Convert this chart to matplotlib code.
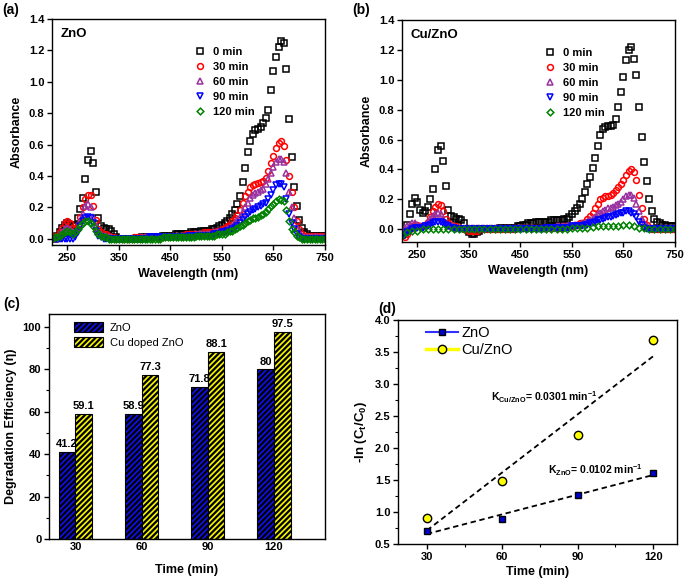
import numpy as np
import matplotlib
matplotlib.use('Agg')
import matplotlib.pyplot as plt
from matplotlib.lines import Line2D

plt.rcParams['font.family'] = ['Liberation Sans', 'DejaVu Sans']
plt.rcParams['font.weight'] = 'bold'
plt.rcParams['axes.labelweight'] = 'bold'
plt.rcParams['mathtext.fontset'] = 'custom'
plt.rcParams['mathtext.rm'] = 'Liberation Sans:bold'
plt.rcParams['mathtext.it'] = 'Liberation Sans:bold'
plt.rcParams['mathtext.bf'] = 'Liberation Sans:bold'
plt.rcParams['hatch.linewidth'] = 1.6
plt.rcParams['axes.linewidth'] = 1.0

# wavelength grid (nm) for the UV-vis spectra
wavelength = np.arange(220, 751, 5)

# (a) ZnO spectra
zno_0 = [0.00, 0.00, 0.02, 0.04, 0.07, 0.09, 0.10, 0.09, 0.08, 0.09,
         0.13, 0.19, 0.26, 0.38, 0.50, 0.56, 0.48, 0.30, 0.13, 0.08,
         0.07, 0.06, 0.06, 0.05, 0.03, 0.01, 0.00, 0.00, 0.00, 0.00,
         0.00, 0.00, 0.00, 0.00, 0.00, 0.01, 0.01, 0.01, 0.01, 0.01,
         0.01, 0.01, 0.01, 0.02, 0.02, 0.02, 0.02, 0.02, 0.03, 0.03,
         0.03, 0.03, 0.03, 0.03, 0.04, 0.04, 0.04, 0.04, 0.05, 0.05,
         0.05, 0.05, 0.06, 0.06, 0.07, 0.08, 0.09, 0.10, 0.11, 0.13,
         0.155, 0.185, 0.22, 0.27, 0.36, 0.45, 0.55, 0.62, 0.665, 0.69,
         0.70, 0.715, 0.74, 0.77, 0.82, 0.95, 1.07, 1.16, 1.22, 1.26,
         1.25, 1.08, 0.76, 0.52, 0.33, 0.21, 0.12, 0.07, 0.04, 0.03,
         0.02, 0.02, 0.02, 0.02, 0.02, 0.02, 0.02]
zno_30 = [0.02, 0.01, 0.02, 0.04, 0.07, 0.10, 0.11, 0.10, 0.07, 0.06,
          0.09, 0.14, 0.20, 0.25, 0.28, 0.28, 0.21, 0.12, 0.06, 0.04,
          0.03, 0.03, 0.02, 0.01, 0.01, 0.00, 0.00, 0.00, 0.00, 0.00,
          0.00, 0.00, 0.01, 0.01, 0.01, 0.01, 0.01, 0.01, 0.01, 0.01,
          0.01, 0.01, 0.01, 0.01, 0.02, 0.02, 0.02, 0.02, 0.02, 0.02,
          0.02, 0.02, 0.03, 0.03, 0.03, 0.03, 0.03, 0.03, 0.03, 0.04,
          0.04, 0.04, 0.04, 0.04, 0.05, 0.05, 0.06, 0.07, 0.08, 0.09,
          0.11, 0.13, 0.15, 0.18, 0.23, 0.27, 0.30, 0.33, 0.345, 0.35,
          0.355, 0.36, 0.37, 0.39, 0.43, 0.48, 0.53, 0.58, 0.61, 0.62,
          0.59, 0.50, 0.40, 0.30, 0.20, 0.11, 0.06, 0.03, 0.02, 0.02,
          0.02, 0.02, 0.02, 0.02, 0.02, 0.02, 0.02]
zno_60 = [0.00, 0.00, 0.01, 0.02, 0.04, 0.06, 0.07, 0.06, 0.04, 0.04,
          0.07, 0.11, 0.16, 0.21, 0.22, 0.20, 0.14, 0.08, 0.04, 0.03,
          0.02, 0.02, 0.01, 0.01, 0.00, 0.00, 0.00, 0.00, 0.00, 0.00,
          0.00, 0.00, 0.00, 0.00, 0.00, 0.01, 0.01, 0.01, 0.01, 0.01,
          0.01, 0.01, 0.01, 0.01, 0.01, 0.01, 0.01, 0.02, 0.02, 0.02,
          0.02, 0.02, 0.02, 0.02, 0.02, 0.02, 0.03, 0.03, 0.03, 0.03,
          0.03, 0.03, 0.03, 0.04, 0.04, 0.04, 0.05, 0.05, 0.06, 0.07,
          0.08, 0.10, 0.12, 0.14, 0.17, 0.20, 0.23, 0.26, 0.28, 0.29,
          0.30, 0.31, 0.32, 0.35, 0.38, 0.42, 0.46, 0.49, 0.51, 0.51,
          0.49, 0.42, 0.30, 0.20, 0.13, 0.07, 0.04, 0.02, 0.01, 0.01,
          0.01, 0.01, 0.01, 0.01, 0.01, 0.01, 0.01]
zno_90 = [0.00, 0.00, 0.00, 0.00, 0.00, 0.00, 0.00, 0.00, 0.00, 0.01,
          0.04, 0.08, 0.11, 0.13, 0.14, 0.13, 0.10, 0.05, 0.02, 0.01,
          0.00, 0.00, 0.00, 0.00, 0.00, 0.00, 0.00, 0.00, 0.00, 0.00,
          0.00, 0.00, 0.00, 0.00, 0.00, 0.00, 0.00, 0.00, 0.01, 0.01,
          0.01, 0.01, 0.01, 0.01, 0.01, 0.01, 0.01, 0.01, 0.01, 0.01,
          0.01, 0.01, 0.01, 0.02, 0.02, 0.02, 0.02, 0.02, 0.02, 0.02,
          0.02, 0.02, 0.02, 0.03, 0.03, 0.03, 0.04, 0.04, 0.05, 0.05,
          0.06, 0.07, 0.08, 0.10, 0.12, 0.14, 0.16, 0.17, 0.18, 0.19,
          0.20, 0.21, 0.22, 0.23, 0.25, 0.28, 0.31, 0.34, 0.35, 0.35,
          0.33, 0.25, 0.16, 0.10, 0.06, 0.03, 0.01, 0.00, 0.00, 0.00,
          0.00, 0.00, 0.00, 0.00, 0.00, 0.00, 0.00]
zno_120 = [0.00, 0.01, 0.01, 0.02, 0.03, 0.04, 0.05, 0.04, 0.03, 0.04,
           0.06, 0.08, 0.10, 0.11, 0.11, 0.10, 0.08, 0.05, 0.03, 0.02,
           0.01, 0.01, 0.00, 0.00, 0.00, 0.00, 0.00, 0.00, 0.00, 0.00,
           0.00, 0.00, 0.00, 0.00, 0.00, 0.00, 0.00, 0.00, 0.00, 0.00,
           0.00, 0.00, 0.00, 0.01, 0.01, 0.01, 0.01, 0.01, 0.01, 0.01,
           0.01, 0.01, 0.01, 0.01, 0.01, 0.01, 0.02, 0.02, 0.02, 0.02,
           0.02, 0.02, 0.02, 0.02, 0.03, 0.03, 0.03, 0.03, 0.04, 0.05,
           0.05, 0.06, 0.07, 0.08, 0.09, 0.10, 0.11, 0.12, 0.13, 0.135,
           0.14, 0.15, 0.16, 0.17, 0.19, 0.21, 0.22, 0.24, 0.25, 0.245,
           0.24, 0.18, 0.11, 0.06, 0.04, 0.02, 0.01, 0.00, 0.00, 0.00,
           0.00, 0.00, 0.00, 0.00, 0.00, 0.00, 0.00]

# (b) Cu/ZnO spectra
cu_0 = [-0.04, -0.02, 0.03, 0.10, 0.17, 0.21, 0.18, 0.13, 0.11, 0.12,
        0.15, 0.20, 0.27, 0.40, 0.53, 0.56, 0.46, 0.29, 0.13, 0.09,
        0.08, 0.07, 0.07, 0.06, 0.04, 0.00, -0.02, -0.03, -0.03, -0.02,
        -0.01, 0.00, 0.00, 0.00, 0.00, 0.00, 0.00, 0.00, 0.01, 0.01,
        0.01, 0.01, 0.01, 0.01, 0.01, 0.02, 0.02, 0.03, 0.03, 0.04,
        0.04, 0.04, 0.05, 0.05, 0.05, 0.05, 0.05, 0.05, 0.06, 0.06,
        0.06, 0.06, 0.06, 0.07, 0.07, 0.08, 0.10, 0.12, 0.14, 0.17,
        0.20, 0.25, 0.30, 0.35, 0.41, 0.48, 0.56, 0.63, 0.67, 0.685,
        0.69, 0.69, 0.70, 0.74, 0.82, 0.92, 1.02, 1.13, 1.20, 1.22,
        1.14, 1.03, 0.82, 0.62, 0.45, 0.32, 0.20, 0.12, 0.07, 0.05,
        0.04, 0.03, 0.03, 0.02, 0.02, 0.02, 0.02]
cu_30 = [-0.03, -0.05, -0.03, 0.00, 0.02, 0.03, 0.03, 0.02, 0.02, 0.03,
         0.05, 0.08, 0.12, 0.15, 0.17, 0.16, 0.12, 0.07, 0.04, 0.03,
         0.02, 0.02, 0.01, 0.01, 0.00, 0.00, -0.01, -0.01, -0.01, -0.01,
         0.00, 0.00, 0.00, 0.00, 0.00, 0.00, 0.00, 0.00, 0.00, 0.00,
         0.00, 0.00, 0.00, 0.00, 0.00, 0.01, 0.01, 0.01, 0.01, 0.01,
         0.01, 0.01, 0.01, 0.01, 0.01, 0.01, 0.01, 0.01, 0.01, 0.01,
         0.01, 0.01, 0.01, 0.02, 0.02, 0.02, 0.02, 0.03, 0.03, 0.04,
         0.04, 0.05, 0.07, 0.09, 0.11, 0.14, 0.17, 0.20, 0.21, 0.22,
         0.22, 0.23, 0.24, 0.26, 0.28, 0.30, 0.33, 0.36, 0.39, 0.40,
         0.38, 0.33, 0.23, 0.14, 0.07, 0.03, 0.01, 0.00, 0.00, 0.00,
         0.00, 0.00, 0.00, 0.00, 0.00, 0.00, 0.00]
cu_60 = [0.00, 0.01, 0.02, 0.03, 0.04, 0.04, 0.03, 0.02, 0.02, 0.03,
         0.05, 0.07, 0.09, 0.10, 0.11, 0.10, 0.07, 0.04, 0.03, 0.02,
         0.02, 0.01, 0.01, 0.01, 0.01, 0.01, 0.01, 0.01, 0.01, 0.01,
         0.01, 0.01, 0.01, 0.01, 0.01, 0.01, 0.01, 0.01, 0.01, 0.01,
         0.01, 0.01, 0.01, 0.01, 0.01, 0.01, 0.01, 0.01, 0.01, 0.01,
         0.01, 0.01, 0.01, 0.01, 0.01, 0.01, 0.01, 0.01, 0.01, 0.01,
         0.02, 0.02, 0.02, 0.02, 0.02, 0.02, 0.02, 0.03, 0.03, 0.03,
         0.04, 0.04, 0.05, 0.06, 0.07, 0.08, 0.10, 0.11, 0.12, 0.13,
         0.14, 0.14, 0.15, 0.16, 0.17, 0.18, 0.20, 0.22, 0.23, 0.23,
         0.21, 0.17, 0.12, 0.07, 0.04, 0.02, 0.01, 0.01, 0.01, 0.01,
         0.01, 0.01, 0.01, 0.01, 0.01, 0.01, 0.01]
cu_90 = [-0.05, -0.04, -0.02, -0.01, 0.00, 0.01, 0.01, 0.01, 0.01, 0.02,
         0.02, 0.03, 0.04, 0.05, 0.05, 0.05, 0.04, 0.03, 0.02, 0.01,
         0.01, 0.00, 0.00, 0.00, 0.00, 0.00, 0.00, 0.00, 0.00, 0.00,
         0.00, 0.00, 0.00, 0.00, 0.00, 0.00, 0.00, 0.00, 0.00, 0.00,
         0.00, 0.00, 0.00, 0.00, 0.00, 0.00, 0.00, 0.00, 0.00, 0.00,
         0.00, 0.00, 0.00, 0.00, 0.00, 0.00, 0.01, 0.01, 0.01, 0.01,
         0.01, 0.01, 0.01, 0.01, 0.01, 0.01, 0.02, 0.02, 0.02, 0.02,
         0.02, 0.03, 0.03, 0.04, 0.04, 0.05, 0.06, 0.065, 0.07, 0.075,
         0.08, 0.085, 0.09, 0.095, 0.10, 0.11, 0.11, 0.12, 0.12, 0.11,
         0.10, 0.08, 0.05, 0.03, 0.01, 0.00, 0.00, 0.00, 0.00, 0.00,
         0.00, 0.00, 0.00, 0.00, 0.00, 0.00, 0.00]
cu_120 = [-0.04, -0.03, -0.02, -0.02, -0.01, -0.01, -0.01, -0.01, 0.00, 0.00,
          0.00, 0.00, 0.00, 0.00, 0.00, 0.00, 0.00, 0.00, 0.00, 0.00,
          0.00, 0.00, 0.00, 0.00, 0.00, 0.00, 0.00, 0.00, 0.00, 0.00,
          0.00, 0.00, 0.00, 0.00, 0.00, 0.00, 0.00, 0.00, 0.00, 0.00,
          0.00, 0.00, 0.00, 0.00, 0.00, 0.00, 0.00, 0.00, 0.00, 0.00,
          0.00, 0.00, 0.00, 0.00, 0.00, 0.00, 0.00, 0.00, 0.00, 0.00,
          0.00, 0.00, 0.00, 0.00, 0.00, 0.01, 0.01, 0.01, 0.01, 0.01,
          0.01, 0.01, 0.01, 0.01, 0.015, 0.02, 0.02, 0.02, 0.02, 0.02,
          0.02, 0.02, 0.02, 0.025, 0.025, 0.03, 0.03, 0.03, 0.03, 0.03,
          0.02, 0.02, 0.01, 0.01, 0.01, 0.00, 0.00, 0.00, 0.00, 0.00,
          0.00, 0.00, 0.00, 0.00, 0.00, 0.00, 0.00]

series_labels = ['0 min', '30 min', '60 min', '90 min', '120 min']

# (c) degradation efficiency
times = [30, 60, 90, 120]
eff_zno = [41.2, 58.9, 71.8, 80]
eff_cu = [59.1, 77.3, 88.1, 97.5]

# (d) kinetics
t_kin = [30, 60, 90, 120]
lnc_zno = [0.71, 0.89, 1.26, 1.61]
lnc_cu = [0.91, 1.48, 2.21, 3.69]

# marker styles for the spectra
styles = [('s', 'black'), ('o', 'red'), ('^', '#9932A0'), ('v', '#0000FF'), ('D', '#008000')]
sizes = [3.9, 4.2, 4.0, 4.0, 3.4]

W, H = 685, 583
fig = plt.figure(figsize=(W / 100, H / 100), dpi=100)


def px_axes(left, top, right, bottom):
    return fig.add_axes([left / W, 1 - bottom / H, (right - left) / W, (bottom - top) / H])


def style_ticks(ax):
    ax.tick_params(direction='out', length=3.5, width=1, labelsize=8, pad=2)
    ax.tick_params(which='minor', direction='out', length=2, width=0.8)
    for lab in ax.get_xticklabels() + ax.get_yticklabels():
        lab.set_fontweight('bold')


def spectra(ax, data, name, ylim, green_every):
    every = [1, 1, 1, 1, green_every]
    for (m, c), s, y, lab, ev in zip(styles, sizes, data, series_labels, every):
        ax.plot(wavelength, y, linestyle='none', marker=m, ms=s, mfc='none',
                mec=c, mew=1.1, markevery=ev, label=lab)
    ax.set_xlim(220, 750)
    ax.set_ylim(*ylim)
    ax.set_xticks([250, 350, 450, 550, 650, 750])
    ax.set_yticks(np.arange(0, 1.41, 0.2))
    ax.yaxis.set_major_formatter(plt.FormatStrFormatter('%.1f'))
    ax.set_xlabel('Wavelength (nm)', fontsize=9, labelpad=4)
    ax.set_ylabel('Absorbance', fontsize=9, labelpad=4)
    ax.text(0.03, 0.96, name, transform=ax.transAxes, fontsize=9.5,
            fontweight='bold', va='top', ha='left')
    ax.legend(loc='upper left', bbox_to_anchor=(0.5, 0.895), frameon=False,
              fontsize=8, handletextpad=0.6, labelspacing=0.45,
              handlelength=1.2, borderaxespad=0)
    style_ticks(ax)


# (a)
ax_a = px_axes(52, 19, 325, 245)
spectra(ax_a, [zno_0, zno_30, zno_60, zno_90, zno_120], 'ZnO', (-0.04, 1.4), 1)
fig.text(2 / W, 1 - 3 / H, '(a)', fontsize=10, fontweight='bold', va='top')

# (b)
ax_b = px_axes(402, 20, 675, 242)
spectra(ax_b, [cu_0, cu_30, cu_60, cu_90, cu_120], 'Cu/ZnO', (-0.085, 1.4), 2)
fig.text(352 / W, 1 - 3 / H, '(b)', fontsize=10, fontweight='bold', va='top')

# (c) bar chart
ax_c = px_axes(49, 314, 325, 539)
pos = np.arange(len(times))
bw = 0.25
b1 = ax_c.bar(pos - bw / 2, eff_zno, bw, color='#1010F0', edgecolor='black',
              linewidth=0.8, hatch='//////', label='ZnO')
b2 = ax_c.bar(pos + bw / 2, eff_cu, bw, color='#F5F500', edgecolor='black',
              linewidth=0.8, hatch='//////', label='Cu doped ZnO')
for bars, vals in ((b1, eff_zno), (b2, eff_cu)):
    for b, v in zip(bars, vals):
        ax_c.text(b.get_x() + b.get_width() / 2, v + 1.2, f'{v:g}',
                  ha='center', va='bottom', fontsize=8, fontweight='bold')
ax_c.set_xlim(-0.4, 3.77)
ax_c.set_ylim(0, 106)
ax_c.set_xticks(pos)
ax_c.set_xticklabels([str(t) for t in times])
ax_c.set_yticks(np.arange(0, 101, 20))
ax_c.set_yticks(np.arange(10, 101, 20), minor=True)
ax_c.set_xlabel('Time (min)', fontsize=9, labelpad=9)
ax_c.set_ylabel('Degradation Efficiency (η)', fontsize=9, labelpad=4)
leg_c = ax_c.legend(loc='upper left', bbox_to_anchor=(0.075, 0.985), frameon=False,
                    fontsize=8, handlelength=2.6, handleheight=1.1,
                    handletextpad=0.6, labelspacing=0.35, borderaxespad=0)
for t in leg_c.get_texts():
    t.set_fontweight('normal')
style_ticks(ax_c)
ax_c.tick_params(axis='x', length=0)
fig.text(3 / W, 1 - 297 / H, '(c)', fontsize=10, fontweight='bold', va='top')

# (d) kinetics
ax_d = px_axes(398, 320, 677, 544)
ax_d.plot(t_kin, lnc_zno, linestyle='none', marker='s', ms=5, mfc='#0000CC',
          mec='black', mew=1.0, zorder=3)
ax_d.plot(t_kin, lnc_cu, linestyle='none', marker='o', ms=6, mfc='#FFFF00',
          mec='black', mew=1.0, zorder=3)
tt = np.array([t_kin[0], t_kin[-1]])
k_zno, b_zno = np.polyfit(t_kin, lnc_zno, 1)
k_cu, b_cu = np.polyfit(t_kin, lnc_cu, 1)
ax_d.plot(tt, k_zno * tt + b_zno, color='black', ls=(0, (3, 2)), lw=1.3, zorder=2)
ax_d.plot(tt, k_cu * tt + b_cu, color='black', ls=(0, (3, 2)), lw=1.3, zorder=2)
ax_d.text(55.5, 2.80, r'K$_{\mathrm{Cu/ZnO}}$= 0.0301 min$^{\mathrm{-1}}$',
          fontsize=7.5, fontweight='bold', va='center')
ax_d.text(78, 1.66, r'K$_{\mathrm{ZnO}}$= 0.0102 min$^{\mathrm{-1}}$',
          fontsize=7.5, fontweight='bold', va='center')
ax_d.set_xlim(18.5, 129.5)
ax_d.set_ylim(0.5, 4.0)
ax_d.set_xticks(t_kin)
ax_d.set_xticks([45, 75, 105], minor=True)
ax_d.set_yticks(np.arange(0.5, 4.01, 0.5))
ax_d.set_yticks(np.arange(0.75, 4.0, 0.5), minor=True)
ax_d.yaxis.set_major_formatter(plt.FormatStrFormatter('%.1f'))
ax_d.set_xlabel('Time (min)', fontsize=9, labelpad=3)
ax_d.set_ylabel('-ln (C$_\\mathrm{t}$/C$_\\mathrm{0}$)', fontsize=9.5, labelpad=4)
handles = [Line2D([], [], color='#3030FF', lw=1.5, marker='s', ms=5, mfc='#0000CC', mec='black'),
           Line2D([], [], color='#FFFF00', lw=2.5, marker='o', ms=6, mfc='#FFFF00', mec='black')]
leg_d = ax_d.legend(handles, ['ZnO', 'Cu/ZnO'], loc='upper left',
                    bbox_to_anchor=(0.08, 1.0), frameon=False, fontsize=10.5,
                    handlelength=2.2, handletextpad=0.2, labelspacing=0.2,
                    borderaxespad=0)
for t in leg_d.get_texts():
    t.set_fontweight('normal')
style_ticks(ax_d)
fig.text(378 / W, 1 - 302 / H, '(d)', fontsize=10, fontweight='bold', va='top')

fig.savefig('out.png', dpi=100)
